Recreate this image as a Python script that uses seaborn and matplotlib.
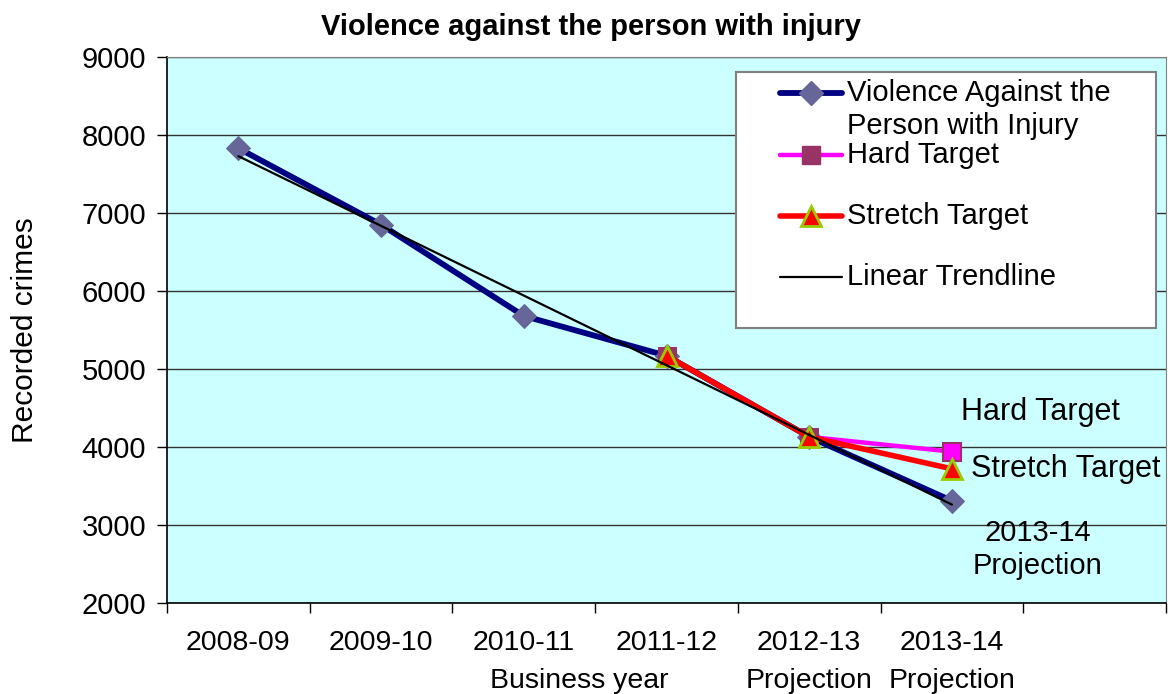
import numpy as np
import pandas as pd
import matplotlib
matplotlib.use("Agg")
import matplotlib.pyplot as plt
from matplotlib.lines import Line2D
from matplotlib.patches import Rectangle
from matplotlib.transforms import Affine2D
import seaborn as sns

# Data
years = ["2008-09", "2009-10", "2010-11", "2011-12", "2012-13", "2013-14"]
year_notes = ["", "", "", "", "Projection", "Projection"]
violence = [7830, 6850, 5680, 5170, 4130, 3310]
hard_years = ["2011-12", "2012-13", "2013-14"]
hard_target = [5170, 4130, 3940]
stretch_years = ["2011-12", "2012-13", "2013-14"]
stretch_target = [5170, 4130, 3720]
yticks = [2000, 3000, 4000, 5000, 6000, 7000, 8000, 9000]
series_names = ["Violence Against the\nPerson with Injury", "Hard Target",
                "Stretch Target", "Linear Trendline"]

sns.set_style("white")
plt.rcParams["font.family"] = ["Liberation Sans", "DejaVu Sans"]
for key in ["text.color", "axes.labelcolor", "xtick.color", "ytick.color"]:
    plt.rcParams[key] = "black"

W, H = 1168, 694
pos = {y: i for i, y in enumerate(years)}
df_v = pd.DataFrame({"x": [pos[y] for y in years], "y": violence})
df_h = pd.DataFrame({"x": [pos[y] for y in hard_years], "y": hard_target})
df_s = pd.DataFrame({"x": [pos[y] for y in stretch_years], "y": stretch_target})

fig = plt.figure(figsize=(W / 100, H / 100), dpi=100)
ax = fig.add_axes([167 / W, 1 - 603 / H, 999 / W, 546 / H])
ax.set_facecolor("#CCFFFF")
# pixel coordinates measured from the top-left corner of the figure
px = Affine2D().scale(1 / W, -1 / H).translate(0, 1) + fig.transFigure

for yv in yticks:
    ax.axhline(yv, color="#333333", lw=1.0, zorder=1)

v_style = dict(color="#000080", lw=4.2, marker="D", markersize=12.5,
               markerfacecolor="#666699", markeredgecolor="#666699")
h_style = dict(color="#FF00FF", lw=3.2, marker="s", markersize=13,
               markerfacecolor="#993366", markeredgecolor="#993366")
s_style = dict(color="#FF0000", lw=4.0, marker="^", markersize=14,
               markerfacecolor="#FF0000", markeredgecolor="#99CC00",
               markeredgewidth=2)
t_style = dict(color="black", lw=1.6)

sns.lineplot(data=df_v, x="x", y="y", ax=ax, zorder=3, **v_style)
sns.lineplot(data=df_h, x="x", y="y", ax=ax, zorder=4, **h_style)
# final hard-target point carries a magenta fill
ax.plot(df_h["x"].iloc[-1], df_h["y"].iloc[-1], marker="s", markersize=13,
        markerfacecolor="#FF00FF", markeredgecolor="#993366", mew=1.5, zorder=5)
sns.lineplot(data=df_s, x="x", y="y", ax=ax, zorder=5, **s_style)

# Linear trendline fitted to the recorded series
xs = np.arange(len(violence))
coef = np.polyfit(xs, violence, 1)
ax.plot(xs, np.polyval(coef, xs), zorder=6, **t_style)

ax.set_xlim(-0.5, 6.5)
ax.set_ylim(2000, 9000)
ax.set_yticks(yticks)
ax.set_yticklabels([str(v) for v in yticks], fontsize=21)
ax.set_xticks(np.arange(-0.5, 7.0, 1.0))
ax.set_xticklabels([])
ax.tick_params(axis="x", direction="out", length=7, width=1, bottom=True)
ax.tick_params(axis="y", direction="out", length=7, width=1, left=True, pad=8)
ax.set_xlabel("")
ax.set_ylabel("")

for sp in ["top", "right"]:
    ax.spines[sp].set_color("#808080")
for sp in ["left", "bottom"]:
    ax.spines[sp].set_color("black")
    ax.spines[sp].set_linewidth(1.2)

# Category labels beneath the axis
trans = ax.get_xaxis_transform()
for i, (y, note) in enumerate(zip(years, year_notes)):
    ax.text(i, -0.073, y, transform=trans, ha="center", va="center", fontsize=20.5)
    if note:
        ax.text(i, -0.143, note, transform=trans, ha="center", va="center", fontsize=20.5)
ax.text(2.39, -0.143, "Business year", transform=trans, ha="center", va="center",
        fontsize=20.5)

# Notes beside the final projection
ax.text(5.62, 4450, "Hard Target", ha="center", va="center", fontsize=22)
ax.text(5.795, 3718, "Stretch Target", ha="center", va="center", fontsize=22)
ax.text(5.6, 2686, "2013-14\nProjection", ha="center", va="center", fontsize=21,
        linespacing=1.2)

fig.text(591 / W, 1 - 27 / H, "Violence against the person with injury",
         ha="center", va="center", fontsize=21, fontweight="bold")
fig.text(25 / W, 1 - 330 / H, "Recorded crimes", rotation=90,
         ha="center", va="center", fontsize=21.5)

# Legend box
fig.add_artist(Rectangle((736, 72), 420, 256, transform=px, facecolor="white",
                         edgecolor="#808080", lw=1.5, zorder=10))
rows = [93, 155, 216, 277]
styles = [v_style, h_style, s_style, t_style]
for row, name, st in zip(rows, series_names, styles):
    line_kw = {k: v for k, v in st.items() if not k.startswith("marker")}
    fig.add_artist(Line2D([780, 842], [row, row], transform=px, zorder=11,
                          solid_capstyle="round", **line_kw))
    if "marker" in st:
        mk = {k: v for k, v in st.items() if k.startswith("marker")}
        fig.add_artist(Line2D([811], [row], transform=px, zorder=12,
                              linestyle="none", **mk))
    for j, part in enumerate(name.split("\n")):
        fig.text(847 / W, 1 - (row + 33 * j) / H, part, ha="left", va="center",
                 fontsize=21, zorder=13)

fig.savefig("out.png", dpi=100)
